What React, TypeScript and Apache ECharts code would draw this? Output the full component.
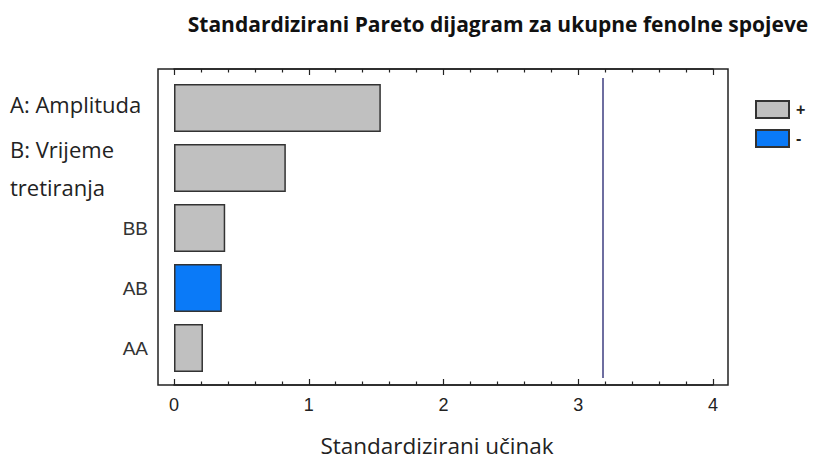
import React, { useEffect, useRef } from "react";
import * as echarts from "echarts";

const categories = ["A: Amplituda", "B: Vrijeme\ntretiranja", "BB", "AB", "AA"];
const positiveValues: (number | string)[] = [1.535, 0.83, 0.38, "-", 0.215];
const negativeValues: (number | string)[] = ["-", "-", "-", 0.355, "-"];
const criticalValue = 3.18;
const xMin = 0;
const xMax = 4;
const titleText = "Standardizirani Pareto dijagram za ukupne fenolne spojeve";
const xAxisName = "Standardizirani učinak";

export default function App() {
  const ref = useRef<HTMLDivElement>(null);
  useEffect(() => {
    if (!ref.current) return;
    const chart = echarts.init(ref.current, null, { renderer: "svg" });
    const tickCommon = {
      show: true,
      inside: true,
      length: 6,
      lineStyle: { color: "#222", width: 1.2 },
    };
    const minorCommon = {
      show: true,
      splitNumber: 5,
      length: 3.5,
      lineStyle: { color: "#222", width: 1.2 },
    };
    chart.setOption({
      animation: false,
      backgroundColor: "#fff",
      title: {
        text: titleText,
        left: 493,
        textAlign: "center",
        top: 8,
        textStyle: {
          fontFamily: "Open Sans",
          fontWeight: "bold",
          fontSize: 21,
          color: "#111",
        },
      },
      legend: {
        orient: "vertical",
        left: 750,
        top: 95,
        itemWidth: 33,
        itemHeight: 17,
        itemGap: 10,
        icon: "rect",
        data: ["+", "-"],
        textStyle: { fontFamily: "Liberation Sans", fontSize: 16, fontWeight: "bold", color: "#222", padding: [0, 0, 0, 2] },
      },
      grid: [
        { left: 174, width: 539, top: 78, height: 300, show: false },
        { left: 174, width: 539, top: 69, height: 316, show: false },
      ],
      xAxis: [
        {
          gridIndex: 0,
          type: "value",
          min: xMin,
          max: xMax,
          interval: 1,
          show: false,
        },
        {
          gridIndex: 1,
          type: "value",
          position: "bottom",
          min: xMin,
          max: xMax,
          interval: 1,
          axisLine: { show: true, lineStyle: { color: "#222", width: 1.5 } },
          axisTick: tickCommon,
          minorTick: minorCommon,
          splitLine: { show: false },
          axisLabel: {
            margin: 11,
            fontFamily: "Liberation Sans",
            fontSize: 18,
            color: "#222",
          },
        },
        {
          gridIndex: 1,
          type: "value",
          position: "top",
          min: xMin,
          max: xMax,
          interval: 1,
          axisLine: { show: true, lineStyle: { color: "#222", width: 1.5 } },
          axisTick: tickCommon,
          minorTick: minorCommon,
          splitLine: { show: false },
          axisLabel: { show: false },
        },
      ],
      yAxis: [
        {
          gridIndex: 0,
          type: "category",
          data: categories,
          inverse: true,
          axisLine: { show: false },
          axisTick: { show: false },
          axisLabel: {
            margin: 26,
            formatter: (v: string) =>
              v.startsWith("A:")
                ? `{bigA|${v}}`
                : v.startsWith("B:")
                ? `{big|${v}}`
                : `{small|${v}}`,
            rich: {
              bigA: {
                width: 138,
                align: "left",
                fontFamily: "Open Sans",
                fontSize: 22,
                lineHeight: 30,
                padding: [0, 0, 9, 0],
                color: "#222",
              },
              big: {
                width: 138,
                align: "left",
                fontFamily: "Open Sans",
                fontSize: 22,
                lineHeight: 38,
                color: "#222",
              },
              small: {
                fontFamily: "Liberation Sans",
                fontSize: 19,
                color: "#333",
              },
            },
          },
        },
        {
          gridIndex: 1,
          type: "value",
          show: false,
        },
      ],
      series: [
        {
          name: "+",
          type: "bar",
          xAxisIndex: 0,
          yAxisIndex: 0,
          stack: "s",
          barWidth: 48,
          data: positiveValues,
          itemStyle: { color: "#c0c0c0", borderColor: "#333", borderWidth: 1.5 },
          markLine: {
            silent: true,
            symbol: "none",
            label: { show: false },
            lineStyle: { color: "#3e3e80", width: 1.5, type: "solid" },
            data: [{ xAxis: criticalValue }],
          },
        },
        {
          name: "-",
          type: "bar",
          xAxisIndex: 0,
          yAxisIndex: 0,
          stack: "s",
          barWidth: 48,
          data: negativeValues,
          itemStyle: { color: "#0a7af8", borderColor: "#333", borderWidth: 1.5 },
        },
      ],
      graphic: [
        {
          type: "rect",
          shape: { x: 158, y: 69, width: 570, height: 316 },
          style: { fill: "none", stroke: "#222", lineWidth: 1.5 },
          silent: true,
        },
        {
          type: "text",
          x: 437,
          y: 445,
          style: {
            text: xAxisName,
            fontFamily: "Open Sans",
            fontSize: 22.5,
            fill: "#222",
            align: "center",
            verticalAlign: "middle",
          },
          silent: true,
        },
      ],
    });
    return () => chart.dispose();
  }, []);
  return (
    <div
      ref={ref}
      style={{ width: 813, height: 459, position: "absolute", left: 0, top: 0 }}
    />
  );
}
